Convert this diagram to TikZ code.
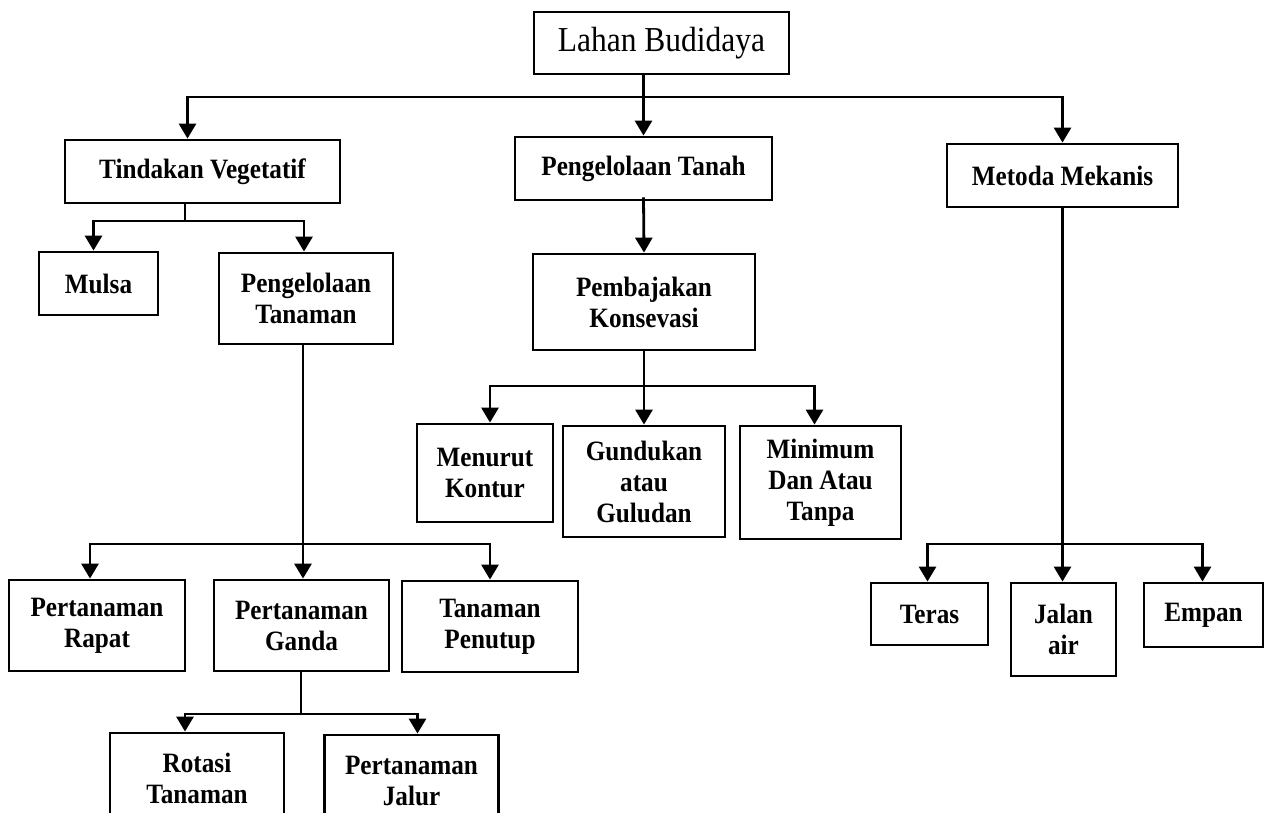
\documentclass[tikz,border=0pt]{standalone}
\usepackage{fontspec}
\setmainfont[FakeStretch=0.9]{Liberation Serif}
\usetikzlibrary{arrows.meta}
\tikzset{>={Triangle[length=15pt,width=17pt]}}
\tikzset{kotak/.style={draw, line width=2.8pt, align=center, inner sep=0pt,
  font=\bfseries\fontsize{28}{31}\selectfont}}

\begin{document}
\begin{tikzpicture}[x=1pt,y=-1pt,line width=2.8pt]
\clip (0,0) rectangle (1267,813);
\node[kotak, font=\fontsize{35}{38}\selectfont, minimum width=255, minimum height=62] (lahan) at (661.5,43) {Lahan Budidaya};
\node[kotak, minimum width=275, minimum height=63] (tv) at (202.5,171.5) {Tindakan Vegetatif};
\node[kotak, minimum width=257, minimum height=63] (pt) at (643.5,168.5) {Pengelolaan Tanah};
\node[kotak, minimum width=231, minimum height=63] (mm) at (1062.5,175.5) {Metoda Mekanis};
\node[kotak, minimum width=119, minimum height=63] (mulsa) at (98.5,283.5) {Mulsa};
\node[kotak, minimum width=174, minimum height=91] (pnt) at (306,298.5) {Pengelolaan\\Tanaman};
\node[kotak, minimum width=222, minimum height=96] (pk) at (644,302) {Pembajakan\\Konsevasi};
\node[kotak, minimum width=136, minimum height=98] (mk) at (485,473) {Menurut\\Kontur};
\node[kotak, minimum width=162, minimum height=111] (ga) at (644,481.5) {Gundukan\\atau\\Guludan};
\node[kotak, minimum width=161, minimum height=113] (min) at (820.5,482.5) {Minimum\\Dan Atau\\Tanpa};
\node[kotak, minimum width=176, minimum height=91] (rapat) at (97,625.5) {Pertanaman\\Rapat};
\node[kotak, minimum width=175, minimum height=91] (ganda) at (301.5,625.5) {Pertanaman\\Ganda};
\node[kotak, minimum width=176, minimum height=91] (penutup) at (490,626.5) {Tanaman\\Penutup};
\node[kotak, minimum width=174, minimum height=91] (rotasi) at (197,778.5) {Rotasi\\Tanaman};
\node[kotak, minimum width=174, minimum height=91] (jalur) at (411.5,780.5) {Pertanaman\\Jalur};
\node[kotak, minimum width=117, minimum height=62] (teras) at (929.5,614) {Teras};
\node[kotak, minimum width=105, minimum height=93] (jalan) at (1063.5,629.5) {Jalan\\air};
\node[kotak, minimum width=119, minimum height=64] (empan) at (1203.5,615) {Empan};
% cabang utama
\coordinate (j1) at (643,97);
\draw[->] (pt.north |- lahan.south) -- (pt.north);
\draw[->] (j1) -| ([xshift=-15]tv.north);
\draw[->] (j1) -| (mm.north);
% vegetatif
\coordinate (j2) at (185,221);
\draw (tv.south -| j2) -- (j2);
\draw[->] (j2) -| ([xshift=-5]mulsa.north);
\draw[->] (j2) -| ([xshift=-2]pnt.north);
\coordinate (j4) at (303,544);
\draw[->] (pnt.south -| j4) -- (ganda.north -| j4);
\draw[->] (j4) -| ([xshift=-7]rapat.north);
\draw[->] (j4) -| (penutup.north);
\coordinate (j5) at (301,714);
\draw (ganda.south -| j5) -- (j5);
\draw[->] (j5) -| ([xshift=-12]rotasi.north);
\draw[->] (j5) -| ([xshift=6]jalur.north);
% tanah
\draw[->] ([yshift=4]pt.south) -- (pk.north);
\coordinate (j3) at (644,386);
\draw[->] (pk.south) -- (ga.north);
\draw[->] (j3) -| ([xshift=5]mk.north);
\draw[->] (j3) -| ([xshift=-6]min.north);
% mekanis
\coordinate (j6) at (1062.5,544);
\draw[->] (mm.south) -- (jalan.north -| mm.south);
\draw[->] (j6) -| ([xshift=-2]teras.north);
\draw[->] (j6) -| ([xshift=-1]empan.north);
\end{tikzpicture}
\end{document}
